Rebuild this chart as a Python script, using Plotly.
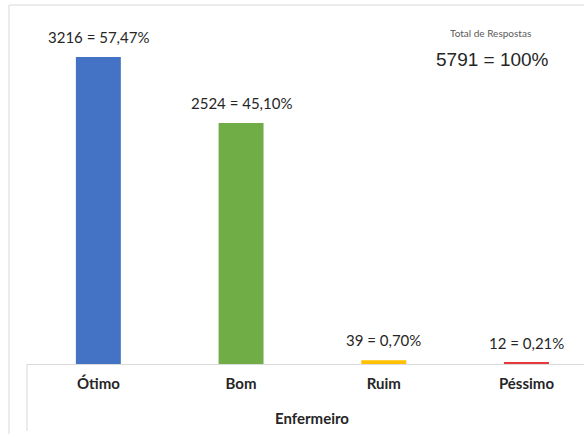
import plotly.graph_objects as go

categories = ["Ótimo", "Bom", "Ruim", "Péssimo"]
counts = [3216, 2524, 39, 12]
percents = ["57,47%", "45,10%", "0,70%", "0,21%"]
colors = ["#4472C4", "#70AD47", "#FFC000", "#E8383D"]
axis_title = "Enfermeiro"
total_title = "Total de Respostas"
total_text = "5791 = 100%"

W, H = 584, 437
L, B = 27, 73

fig = go.Figure()
fig.add_trace(go.Bar(
    x=categories, y=counts, marker=dict(color=colors, line=dict(width=0)),
    width=0.315, hoverinfo="skip", showlegend=False,
))

for c, v, p in zip(categories, counts, percents):
    fig.add_annotation(x=c, y=v, xref="x", yref="y", text=f"{v} = {p}",
                       showarrow=False, yanchor="bottom", xanchor="center", yshift=9,
                       font=dict(family="Lato", size=15, color="#262626"))

pw = W - L
ph = H - B

fig.add_annotation(x=1.5, xref="x", y=-(418 - ph) / ph, yref="paper",
                   text=f"<b>{axis_title}</b>", showarrow=False, yanchor="middle",
                   xanchor="center",
                   font=dict(family="Lato", size=15, color="#262626"))

fig.add_annotation(x=(490 - L) / pw, xref="paper", y=1 - 33 / ph, yref="paper",
                   text=total_title, showarrow=False, yanchor="middle", xanchor="center",
                   font=dict(family="Lato", size=10, color="#595959"))
fig.add_annotation(x=(492 - L) / pw, xref="paper", y=1 - 60 / ph, yref="paper",
                   text=total_text, showarrow=False, yanchor="middle", xanchor="center",
                   font=dict(family="Liberation Sans", size=19, color="#262626"))

# outer frame (top and left)
fig.add_shape(type="line", xref="paper", yref="paper",
              x0=(9 - L) / pw, x1=1.0, y0=1 - 5 / ph, y1=1 - 5 / ph,
              line=dict(color="#D9D9D9", width=1))
fig.add_shape(type="line", xref="paper", yref="paper",
              x0=(9 - L) / pw, x1=(9 - L) / pw, y0=1 - 5 / ph, y1=-(434 - ph) / ph,
              line=dict(color="#D9D9D9", width=1))
# category divider
fig.add_shape(type="line", xref="paper", yref="paper",
              x0=0, x1=0, y0=0, y1=-(431 - ph) / ph,
              line=dict(color="#D9D9D9", width=1))

fig.update_layout(
    width=W, height=H,
    margin=dict(l=L, r=0, t=0, b=B),
    paper_bgcolor="white", plot_bgcolor="white",
    xaxis=dict(range=[-0.5, 3.403], showline=True, linecolor="#D9D9D9", linewidth=1,
               showgrid=False, zeroline=False, ticks="outside", ticklen=6,
               tickcolor="rgba(0,0,0,0)",
               tickfont=dict(family="Lato", size=15, color="#262626"),
               tickvals=categories, ticktext=[f"<b>{c}</b>" for c in categories]),
    yaxis=dict(range=[0, 3813], visible=False, showgrid=False, zeroline=False),
    bargap=0.2,
)

fig.write_html("out.html", config={"displayModeBar": False},
               post_script="document.body.style.margin='0';")
